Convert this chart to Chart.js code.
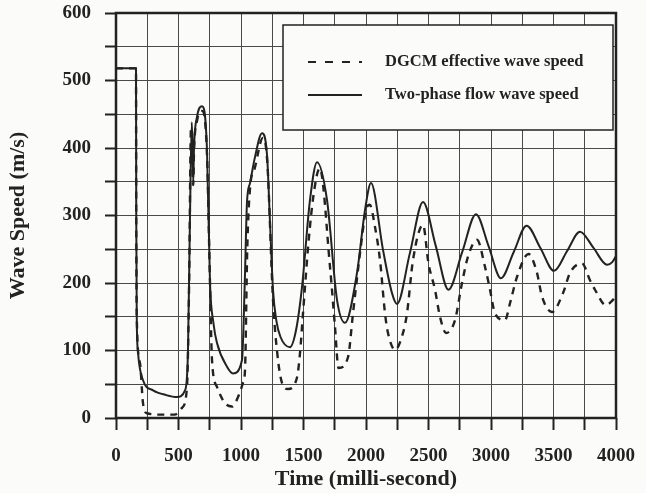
<!DOCTYPE html>
<html>
<head>
<meta charset="utf-8">
<script src="https://cdn.jsdelivr.net/npm/chart.js@4/dist/chart.umd.min.js"></script>
<style>
  html, body { margin: 0; padding: 0; background: #fbfbf9; }
  #wrap { width: 646px; height: 493px; }
</style>
</head>
<body>
<div id="wrap"><canvas id="grafico" width="646" height="493"></canvas></div>
<script>
// Two-phase flow wave speed (linha cheia)
const tempoBifasico = [0, 160, 162, 166, 175, 216, 296, 400, 488, 552, 576, 592, 606, 612, 618, 624, 648, 688, 728, 752, 780, 808, 888, 936, 1008, 1030, 1048, 1072, 1110, 1168, 1208, 1232, 1256, 1282, 1316, 1392, 1440, 1488, 1552, 1608, 1688, 1768, 1832, 1928, 1992, 2040, 2136, 2208, 2248, 2352, 2456, 2558, 2660, 2770, 2880, 2980, 3080, 3182, 3285, 3395, 3504, 3608, 3712, 3820, 3928, 3970, 4000];
const velBifasico = [518, 518, 300, 150, 100, 56, 41, 34, 31, 41, 100, 300, 438, 400, 350, 400, 446, 462, 397, 200, 140, 111, 76, 66, 86, 200, 320, 348, 385, 422, 390, 290, 190, 145, 120, 105, 130, 194, 323, 379, 323, 175, 141, 215, 308, 348, 249, 185, 169, 245, 320, 255, 190, 246, 302, 255, 207, 246, 285, 252, 218, 247, 276, 252, 227, 231, 240];

// DGCM effective wave speed (tracejada)
const tempoDGCM = [0, 160, 162, 166, 192, 216, 248, 368, 470, 528, 568, 585, 600, 612, 618, 624, 648, 688, 728, 752, 768, 808, 872, 928, 985, 1016, 1032, 1050, 1072, 1110, 1175, 1210, 1256, 1290, 1328, 1376, 1448, 1472, 1496, 1540, 1580, 1630, 1712, 1752, 1780, 1856, 1896, 1952, 2000, 2030, 2072, 2112, 2152, 2176, 2232, 2296, 2328, 2376, 2456, 2500, 2552, 2592, 2640, 2712, 2768, 2816, 2888, 2952, 2992, 3032, 3112, 3152, 3208, 3300, 3368, 3408, 3488, 3576, 3632, 3728, 3792, 3832, 3920, 3960, 4000];
const velDGCM = [518, 518, 300, 150, 81, 22, 7, 5, 5, 15, 46, 200, 430, 398, 345, 395, 440, 455, 390, 200, 86, 46, 22, 17, 35, 52, 71, 250, 340, 370, 415, 380, 175, 96, 52, 43, 60, 96, 155, 260, 330, 370, 224, 135, 74, 90, 155, 244, 308, 316, 283, 234, 155, 126, 101, 126, 155, 234, 286, 229, 190, 150, 126, 145, 200, 239, 264, 224, 190, 155, 145, 170, 209, 243, 215, 180, 157, 185, 215, 229, 204, 190, 167, 172, 180];

const rotuloBifasico = 'Two-phase flow wave speed';
const rotuloDGCM = 'DGCM effective wave speed';
const tituloX = 'Time (milli-second)';
const tituloY = 'Wave Speed (m/s)';

const corTinta = '#222';
const fonteSerif = '"Liberation Serif", "DejaVu Serif", serif';

function montarPontos(tempos, valores) {
    return tempos.map((t, i) => ({ x: t, y: valores[i] }));
}

// Moldura e legenda desenhadas por cima do gráfico
const molduraELegenda = {
    id: 'molduraELegenda',
    afterDatasetsDraw(chart) {
        const ctx = chart.ctx;
        const area = chart.chartArea;
        ctx.save();
        ctx.strokeStyle = corTinta;
        ctx.lineWidth = 2.5;
        ctx.strokeRect(area.left, area.top, area.right - area.left, area.bottom - area.top);

        // caixa da legenda
        const lx = 283, ly = 25, lw = 330, lh = 105;
        ctx.fillStyle = '#fbfbf9';
        ctx.fillRect(lx, ly, lw, lh);
        ctx.lineWidth = 1.5;
        ctx.strokeRect(lx, ly, lw, lh);

        ctx.lineWidth = 2;
        ctx.setLineDash([8, 9]);
        ctx.beginPath(); ctx.moveTo(308, 62); ctx.lineTo(362, 62); ctx.stroke();
        ctx.setLineDash([]);
        ctx.beginPath(); ctx.moveTo(308, 95); ctx.lineTo(362, 95); ctx.stroke();

        ctx.fillStyle = corTinta;
        ctx.font = 'bold 16.5px ' + fonteSerif;
        ctx.textBaseline = 'middle';
        ctx.fillText(rotuloDGCM, 385, 62);
        ctx.fillText(rotuloBifasico, 385, 95);
        ctx.restore();
    }
};

new Chart(document.getElementById('grafico').getContext('2d'), {
    type: 'line',
    data: {
        datasets: [
            {
                label: rotuloDGCM,
                data: montarPontos(tempoDGCM, velDGCM),
                borderColor: corTinta,
                borderWidth: 2.4,
                borderDash: [7, 6],
                pointRadius: 0,
                cubicInterpolationMode: 'monotone',
                fill: false
            },
            {
                label: rotuloBifasico,
                data: montarPontos(tempoBifasico, velBifasico),
                borderColor: corTinta,
                borderWidth: 2,
                pointRadius: 0,
                cubicInterpolationMode: 'monotone',
                fill: false
            }
        ]
    },
    options: {
        responsive: false,
        animation: false,
        devicePixelRatio: 1,
        layout: { padding: { top: 13, right: 30, left: 0, bottom: 0 } },
        plugins: { legend: { display: false }, tooltip: { enabled: false } },
        scales: {
            x: {
                type: 'linear',
                min: 0, max: 4000,
                afterFit: (s) => { s.height = 75; s.paddingLeft = 0; s.paddingRight = 0; },
                grid: { color: '#4a4a4a', lineWidth: 1, tickColor: corTinta, tickWidth: 2, tickLength: 12 },
                border: { display: false },
                ticks: {
                    stepSize: 250, autoSkip: false, maxRotation: 0, padding: 15,
                    color: corTinta,
                    font: { family: fonteSerif, size: 19, weight: 'bold' },
                    callback: (v) => (v % 500 === 0 ? String(v) : '')
                },
                title: {
                    display: true, text: tituloX, color: corTinta,
                    font: { family: fonteSerif, size: 22, weight: 'bold' },
                    padding: { top: 0, bottom: 0 }
                }
            },
            y: {
                min: 0, max: 600,
                afterFit: (s) => { s.width = 116; s.paddingTop = 0; s.paddingBottom = 0; },
                grid: { color: '#4a4a4a', lineWidth: 1, tickColor: corTinta, tickWidth: 2, tickLength: 11 },
                border: { display: false },
                ticks: {
                    stepSize: 50, autoSkip: false, padding: 14,
                    color: corTinta,
                    font: { family: fonteSerif, size: 19, weight: 'bold' },
                    callback: (v) => (v % 100 === 0 ? String(v) : '')
                },
                title: {
                    display: true, text: tituloY, color: corTinta,
                    font: { family: fonteSerif, size: 22, weight: 'bold' },
                    padding: { top: 5, bottom: 0 }
                }
            }
        }
    },
    plugins: [molduraELegenda]
});
</script>
</body>
</html>
